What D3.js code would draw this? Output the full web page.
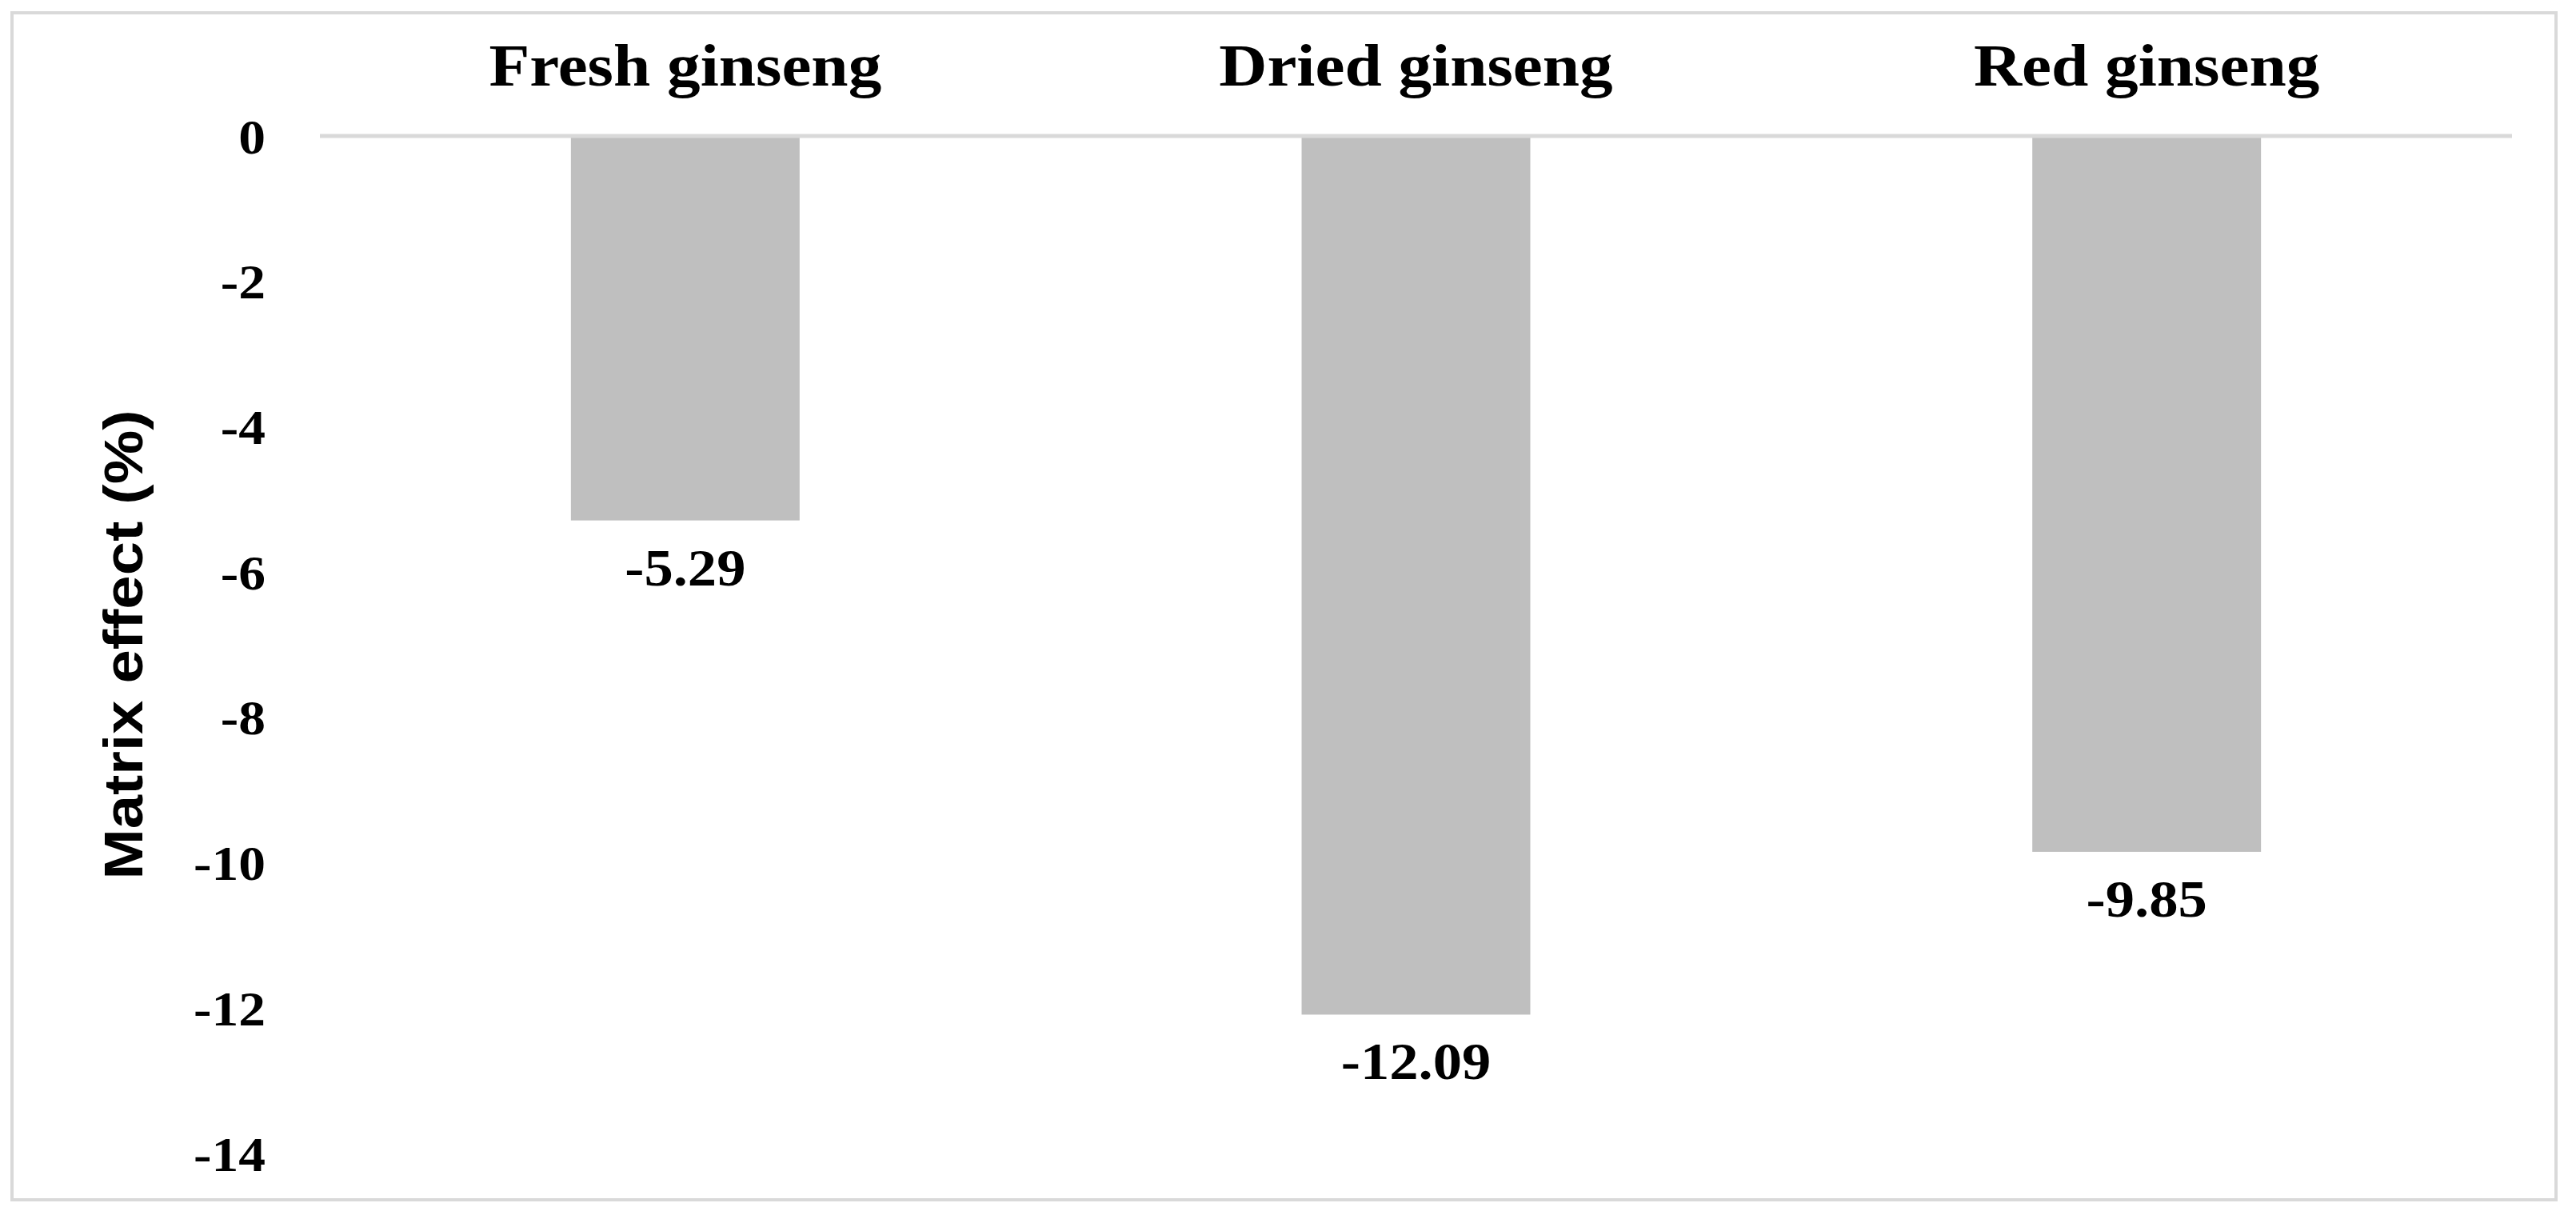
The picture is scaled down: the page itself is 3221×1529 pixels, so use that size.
<!DOCTYPE html>
<html>
<head>
<meta charset="utf-8">
<script src="https://cdn.jsdelivr.net/npm/d3@7"></script>
<style>
  html, body { margin: 0; padding: 0; background: #ffffff; }
  svg { display: block; }
</style>
</head>
<body>
<svg id="chart" width="3221" height="1529"></svg>
<script>
// ---- data ----
const categories = ["Fresh ginseng", "Dried ginseng", "Red ginseng"];
const values = [-5.29, -12.09, -9.85];
const valueLabels = ["-5.29", "-12.09", "-9.85"];
const tickValues = [0, -2, -4, -6, -8, -10, -12, -14];
const yTitle = "Matrix effect (%)";

// ---- layout ----
const W = 3221, H = 1529;
const plotLeft = 400, plotRight = 3141, plotTop = 170, plotBottom = 1442;

const svg = d3.select("#chart");

svg.append("rect")
  .attr("x", 0).attr("y", 0).attr("width", W).attr("height", H)
  .attr("fill", "#ffffff");

// outer frame
svg.append("rect")
  .attr("x", 15).attr("y", 16).attr("width", 3181).attr("height", 1484)
  .attr("fill", "none").attr("stroke", "#d9d9d9").attr("stroke-width", 4);

const x = d3.scaleBand()
  .domain(categories)
  .range([plotLeft, plotRight])
  .paddingInner(0.687)
  .paddingOuter(0.3435);

const y = d3.scaleLinear()
  .domain([-14, 0])
  .range([plotBottom, plotTop]);

// bars
svg.append("g").selectAll("rect")
  .data(categories)
  .join("rect")
  .attr("x", d => x(d))
  .attr("width", x.bandwidth())
  .attr("y", (d, i) => y(Math.max(0, values[i])))
  .attr("height", (d, i) => Math.abs(y(values[i]) - y(0)))
  .attr("fill", "#bfbfbf");

// zero line
svg.append("line")
  .attr("x1", plotLeft).attr("x2", plotRight)
  .attr("y1", y(0)).attr("y2", y(0))
  .attr("stroke", "#d9d9d9").attr("stroke-width", 5);

// y axis (labels only)
const yAxis = d3.axisLeft(y)
  .tickValues(tickValues)
  .tickSize(0)
  .tickFormat(d => String(d));

const gy = svg.append("g")
  .attr("transform", `translate(${plotLeft},0)`)
  .call(yAxis);
gy.select(".domain").remove();
gy.selectAll(".tick line").remove();
gy.selectAll(".tick text")
  .attr("x", null)
  .attr("dy", "0.34em")
  .attr("text-anchor", "end")
  .attr("transform", "translate(-68,0) scale(1.09,1)")
  .attr("fill", "#000")
  .style("font-family", "'Liberation Serif', 'Times New Roman', serif")
  .style("font-weight", "bold")
  .style("font-size", "62px");

// category labels at top
svg.append("g").selectAll("text")
  .data(categories)
  .join("text")
  .attr("transform", d => `translate(${x(d) + x.bandwidth() / 2},107) scale(1.14,1)`)
  .attr("text-anchor", "middle")
  .attr("fill", "#000")
  .style("font-family", "'Liberation Serif', 'Times New Roman', serif")
  .style("font-weight", "bold")
  .style("font-size", "73px")
  .text(d => d);

// value labels under bars
svg.append("g").selectAll("text")
  .data(categories)
  .join("text")
  .attr("transform", (d, i) => `translate(${x(d) + x.bandwidth() / 2},${y(values[i]) + 81}) scale(1.1,1)`)
  .attr("text-anchor", "middle")
  .attr("fill", "#000")
  .style("font-family", "'Liberation Serif', 'Times New Roman', serif")
  .style("font-weight", "bold")
  .style("font-size", "66px")
  .text((d, i) => valueLabels[i]);

// y axis title
svg.append("text")
  .attr("transform", `translate(178,${(plotTop + plotBottom) / 2}) rotate(-90) scale(1.118,1)`)
  .attr("text-anchor", "middle")
  .attr("fill", "#000")
  .style("font-family", "'Liberation Sans', Arial, sans-serif")
  .style("font-weight", "bold")
  .style("font-size", "68px")
  .text(yTitle);
</script>
</body>
</html>
